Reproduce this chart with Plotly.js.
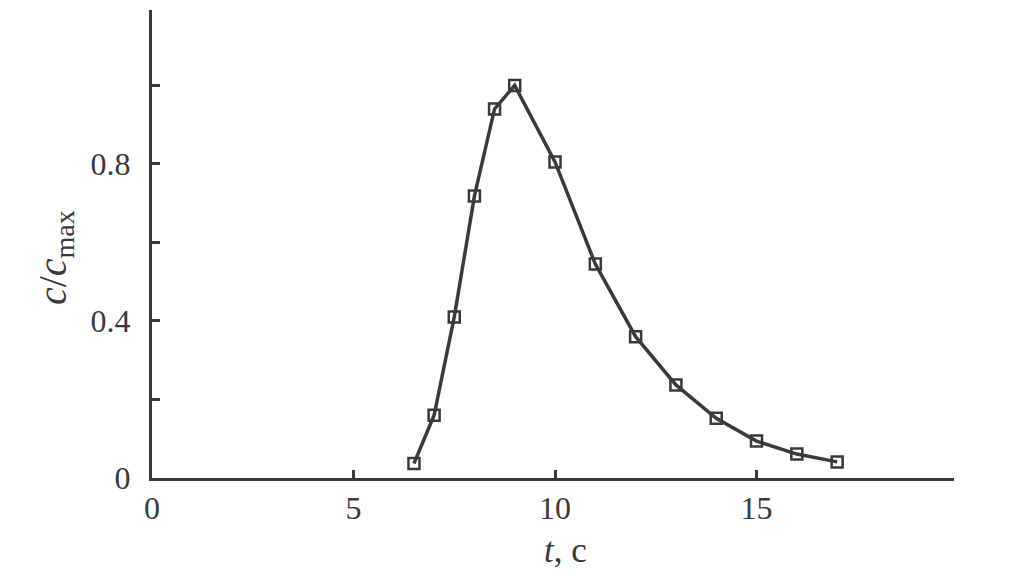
<!DOCTYPE html>
<html>
<head>
<meta charset="utf-8">
<script src="https://cdn.plot.ly/plotly-3.0.1.min.js"></script>
<style>html,body{margin:0;padding:0;background:#fff}#chart{width:1010px;height:576px}</style>
</head>
<body>
<div id="chart"></div>
<script>
const timeSec = [6.5, 7, 7.5, 8, 8.5, 9, 10, 11, 12, 13, 14, 15, 16, 17];
const concRatio = [0.037, 0.16, 0.41, 0.718, 0.94, 1.0, 0.805, 0.545, 0.36, 0.237, 0.152, 0.094, 0.061, 0.041];
const xTickVals = [0, 5, 10, 15];
const xTickText = ['0', '5', '10', '15'];
const yTickVals = [0, 0.4, 0.8];
const yTickText = ['0', '0.4', '0.8'];
const xTitle = '<i>t</i>, c';
const yTitle = '<i>c</i>/<i>c</i><sub>max</sub>';

const ink = '#3a3a3a';
const fam = 'Liberation Serif, Times New Roman, serif';
const font = {family: fam, size: 32, color: ink};

Plotly.newPlot('chart', [{
  x: timeSec,
  y: concRatio,
  type: 'scatter',
  mode: 'lines+markers',
  line: {color: ink, width: 3.5},
  marker: {symbol: 'square-open', size: 11, color: ink, line: {width: 2.5, color: ink}},
  cliponaxis: false
}], {
  width: 1010, height: 576,
  margin: {l: 152, r: 56, t: 10, b: 98},
  paper_bgcolor: '#fff', plot_bgcolor: '#fff',
  showlegend: false,
  font: font,
  xaxis: {
    range: [0, 19.9], showgrid: false, zeroline: false,
    showline: true, linecolor: ink, linewidth: 3,
    tickmode: 'array', tickvals: xTickVals, ticktext: xTickText,
    ticks: 'inside', ticklen: 8, tickwidth: 3, tickcolor: ink,
    tickfont: font
  },
  yaxis: {
    range: [0, 1.192], showgrid: false, zeroline: false,
    showline: true, linecolor: ink, linewidth: 3,
    tickmode: 'array', tickvals: yTickVals, ticktext: yTickText,
    ticks: 'inside', ticklen: 8, tickwidth: 3, tickcolor: ink,
    minor: {dtick: 0.2, tick0: 0, ticks: 'inside', ticklen: 8, tickwidth: 3, tickcolor: ink, showgrid: false},
    tickfont: font, ticklabelstandoff: 12
  },
  annotations: [
    {text: xTitle, xref: 'paper', yref: 'paper', x: 0.516, y: -0.154,
     xanchor: 'center', yanchor: 'middle', showarrow: false,
     font: {family: fam, size: 35, color: ink}},
    {text: yTitle, xref: 'paper', yref: 'paper', x: -0.121, y: 0.472,
     xanchor: 'center', yanchor: 'middle', showarrow: false, textangle: -90,
     font: {family: fam, size: 40, color: ink}}
  ]
}, {staticPlot: true});
</script>
</body>
</html>
